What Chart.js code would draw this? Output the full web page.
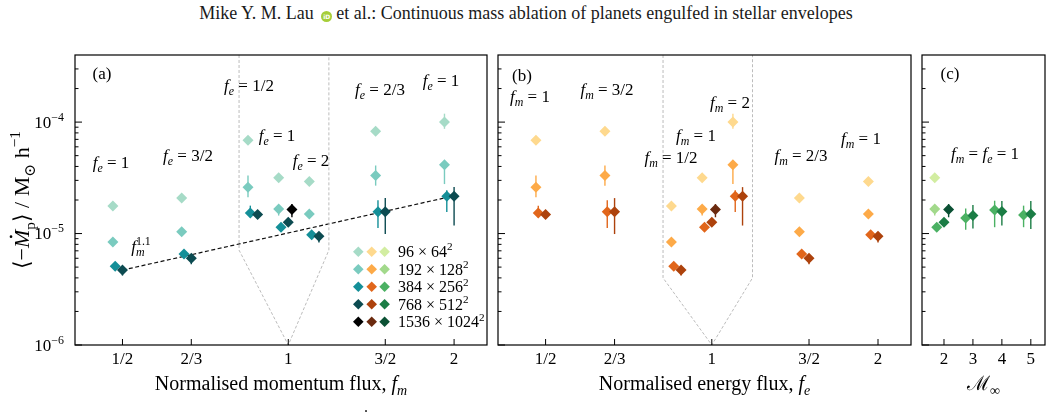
<!DOCTYPE html>
<html>
<head>
<meta charset="utf-8">
<title>Continuous mass ablation</title>
<script src="https://cdn.jsdelivr.net/npm/chart.js@4.4.1/dist/chart.umd.min.js"></script>
<style>
  body { margin: 0; background: #fff; }
  #wrap { position: relative; width: 1052px; height: 415px; overflow: hidden; background: #fff; }
  #wrap canvas { position: absolute; left: 0; top: 0; }
  #head { position: absolute; left: 0; top: 3px; width: 1052px; text-align: center; font: 18px "Liberation Serif", serif; color: #1a1a1a; white-space: nowrap; }
  .orcid { display: inline-block; width: 11px; height: 11px; border-radius: 50%; background: #a6ce39; color: #fff; font: bold 6px "DejaVu Sans", sans-serif; line-height: 11px; text-align: center; margin: 0 4px 0 3px; }
  #cap { position: absolute; left: 363px; top: 407px; font: 18px "Liberation Serif", serif; color: #222; }
</style>
</head>
<body>
<div id="wrap">
  <div id="head">Mike Y. M. Lau <span class="orcid">iD</span>et al.: Continuous mass ablation of planets engulfed in stellar envelopes</div>
  <canvas id="panelA" width="1052" height="415"></canvas>
  <canvas id="panelB" width="1052" height="415"></canvas>
  <canvas id="panelC" width="1052" height="415"></canvas>
  <div id="cap">˙</div>
</div>
<script>
// simulations: (f_m, f_e) for each run
const runFm = [0.5, 2/3, 1, 1, 1, 1.5, 2];
const runFe = [1, 1.5, 0.5, 1, 2, 2/3, 1];

// <-Mdot_p> in Msun/h, one array per resolution (null = not run)
const mdot96   = [1.77e-5, 2.08e-5, 6.86e-5, 3.16e-5, 2.93e-5, 8.26e-5, 1.0e-4];
const mdot192  = [8.4e-6, 1.04e-5, 2.6e-5, 1.66e-5, 1.5e-5, 3.32e-5, 4.14e-5];
const mdot384  = [5.1e-6, 6.55e-6, 1.53e-5, 1.14e-5, 9.77e-6, 1.57e-5, 2.16e-5];
const mdot768  = [4.7e-6, 6.0e-6, 1.48e-5, 1.26e-5, 9.44e-6, 1.57e-5, 2.16e-5];
const mdot1536 = [null, null, null, 1.64e-5, null, null, null];

// error bar ranges [low, high]
const err96   = [[1.65e-5, 1.9e-5], null, null, null, null, [7.7e-5, 9.0e-5], [8.7e-5, 1.19e-4]];
const err192  = [null, null, [2.12e-5, 3.32e-5], [1.45e-5, 1.78e-5], null, [2.69e-5, 4.08e-5], [2.78e-5, 4.5e-5]];
const err384  = [[4.8e-6, 5.4e-6], null, [1.4e-5, 1.78e-5], null, [8.9e-6, 1.05e-5], [1.12e-5, 1.99e-5], [1.56e-5, 2.45e-5]];
const err768  = [[4.2e-6, 5.0e-6], [5.3e-6, 6.55e-6], null, null, [8.3e-6, 1.03e-5], [9.9e-6, 2.08e-5], [1.18e-5, 2.61e-5]];
const err1536 = [null, null, null, [1.4e-5, 1.84e-5], null, null, null];

// Mach number runs (panel c), f_m = f_e = 1
const machNums = [2, 3, 4, 5];
const machMdot96   = [3.16e-5, null, null, null];
const machMdot192  = [1.66e-5, null, null, null];
const machMdot384  = [1.14e-5, 1.38e-5, 1.63e-5, 1.47e-5];
const machMdot768  = [1.26e-5, 1.45e-5, 1.58e-5, 1.5e-5];
const machMdot1536 = [1.64e-5, null, null, null];
const machErr96   = [null, null, null, null];
const machErr192  = [[1.45e-5, 1.78e-5], null, null, null];
const machErr384  = [null, [1.08e-5, 1.68e-5], [1.14e-5, 1.97e-5], [1.14e-5, 1.78e-5]];
const machErr768  = [null, [1.11e-5, 1.8e-5], [1.18e-5, 1.96e-5], [1.1e-5, 1.96e-5]];
const machErr1536 = [[1.4e-5, 1.84e-5], null, null, null];

// f_m^1.1 fit, end points
const fitX = [0.5, 2];
const fitY = [4.7e-6, 2.18e-5];

// grey zoom outlines (x, y) in data units
const zoomAx = [0.814, 0.814, 1, 1.185, 1.185];
const zoomAy = [4e-4, 7.1e-6, 1e-6, 7.1e-6, 4e-4];
const zoomBx = [0.816, 0.816, 1, 1.185, 1.185];
const zoomBy = [4e-4, 4.0e-6, 1e-6, 4.0e-6, 4e-4];

const resolutions = ['96 × 64', '192 × 128', '384 × 256', '768 × 512', '1536 × 1024'];
const fluxTicks = [0.5, 2/3, 1, 1.5, 2];
const fluxLabels = ['1/2', '2/3', '1', '3/2', '2'];
const machTicks = [2, 3, 4, 5];
const machLabels = ['2', '3', '4', '5'];
const yMajor = [1e-6, 1e-5, 1e-4];
const yMajorExp = ['−6', '−5', '−4'];

const teal   = ['#a6dbc7', '#7acbbf', '#148f98', '#0c4b51', '#000000'];
const orange = ['#fed98e', '#fdaa48', '#e1661b', '#ad420c', '#6b2a0f'];
const green  = ['#d2eda1', '#a2d98b', '#4bb163', '#1b7d45', '#0b5134'];

// small horizontal dodges so resolutions don't overlap
const resDodgeLog = [-0.058, -0.058, -0.044, 0, 0.022];
const resDodgeLin = [-0.32, -0.32, -0.25, 0, 0.16];
const groupDodge = 0.185;
const groupA = [0, 0, -1, 0, 1, 0, 0];
const groupB = [-1, 0, 0, 0, 0, 0, 1];

const FONT = '"Liberation Serif", "DejaVu Serif", serif';
const Y_MIN = 1e-6, Y_MAX = 4e-4;

function styleOf(st, size) {
    if (st === 'i' || st === 'idot') return { sz: size, dy: 0, it: true };
    if (st === 'sub') return { sz: size * 0.7, dy: size * 0.24, it: true };
    if (st === 'subr') return { sz: size * 0.7, dy: size * 0.24, it: false };
    if (st === 'sup' || st === 'supb') return { sz: size * 0.7, dy: -size * 0.42, it: false };
    return { sz: size, dy: 0, it: false };
}

// draws mixed italic / sub / sup text, y is the visual middle
function drawRich(ctx, parts, x, y, size, align) {
    const items = [];
    let cur = 0, lastStart = 0;
    parts.forEach(([t, st]) => {
        const s = styleOf(st, size);
        const font = (s.it ? 'italic ' : '') + s.sz.toFixed(1) + 'px ' + FONT;
        ctx.font = font;
        const w = ctx.measureText(t).width;
        const x0 = st === 'supb' ? lastStart : cur;
        if (st !== 'supb') lastStart = x0;
        items.push({ t, font, x0, w, dy: s.dy, dot: st === 'idot' });
        cur = Math.max(cur, x0 + w);
    });
    const sx = align === 'center' ? x - cur / 2 : align === 'right' ? x - cur : x;
    const base = y + size * 0.34;
    ctx.textAlign = 'left';
    ctx.textBaseline = 'alphabetic';
    items.forEach(it => {
        ctx.font = it.font;
        ctx.fillText(it.t, sx + it.x0, base + it.dy);
        if (it.dot) {
            ctx.beginPath();
            ctx.arc(sx + it.x0 + it.w * 0.62, base - size * 0.84, size * 0.06, 0, Math.PI * 2);
            ctx.fill();
        }
    });
}

const fe = v => [['f', 'i'], ['e', 'sub'], [' = ' + v, 'r']];
const fm = v => [['f', 'i'], ['m', 'sub'], [' = ' + v, 'r']];

function pointSets(colors, rows, errRows, xOf) {
    return rows.map((row, r) => {
        const pts = [], errs = [];
        row.forEach((v, i) => {
            if (v == null) return;
            pts.push({ x: xOf(i, r), y: v });
            errs.push(errRows[r][i]);
        });
        return {
            label: resolutions[r], data: pts, errs: errs,
            backgroundColor: colors[r], borderColor: colors[r], borderWidth: 0,
            pointStyle: 'rectRot', pointRadius: 5.5, pointHoverRadius: 5.5,
            order: 5 - r
        };
    });
}

function outline(xs, ys, color, width, dash) {
    return {
        data: xs.map((x, i) => ({ x: x, y: ys[i] })), showLine: true,
        borderColor: color, borderWidth: width, borderDash: dash,
        pointRadius: 0, fill: false, tension: 0, order: 10
    };
}

function diamond(ctx, x, y, r, color) {
    ctx.fillStyle = color;
    ctx.beginPath();
    ctx.moveTo(x, y - r); ctx.lineTo(x + r, y); ctx.lineTo(x, y + r); ctx.lineTo(x - r, y);
    ctx.closePath();
    ctx.fill();
}

function decor(cfg) {
    return {
        id: 'decor' + cfg.name,
        beforeDatasetsDraw(chart) {
            const { ctx, scales: { x, y } } = chart;
            ctx.save();
            ctx.lineWidth = 1.4;
            chart.data.datasets.forEach(ds => {
                if (!ds.errs) return;
                ctx.strokeStyle = ds.borderColor;
                ds.data.forEach((p, k) => {
                    const e = ds.errs[k];
                    if (!e) return;
                    const px = x.getPixelForValue(p.x);
                    ctx.beginPath();
                    ctx.moveTo(px, y.getPixelForValue(e[0]));
                    ctx.lineTo(px, y.getPixelForValue(e[1]));
                    ctx.stroke();
                });
            });
            ctx.restore();
        },
        afterDraw(chart) {
            const { ctx, chartArea: a, scales: { x, y } } = chart;
            ctx.save();
            ctx.strokeStyle = '#000';
            ctx.fillStyle = '#000';
            ctx.lineWidth = 1.2;
            ctx.strokeRect(a.left, a.top, a.right - a.left, a.bottom - a.top);

            // inward ticks
            ctx.lineWidth = 1;
            for (let d = -6; d <= -4; d++) {
                for (let k = 1; k <= 9; k++) {
                    const v = k * Math.pow(10, d);
                    if (v >= Y_MAX * 0.99) continue;
                    const py = y.getPixelForValue(v);
                    ctx.beginPath();
                    ctx.moveTo(a.left, py);
                    ctx.lineTo(a.left + (k === 1 ? 7 : 3.5), py);
                    ctx.stroke();
                }
            }
            cfg.xTicks.forEach(v => {
                const px = x.getPixelForValue(v);
                ctx.beginPath();
                ctx.moveTo(px, a.bottom);
                ctx.lineTo(px, a.bottom - 6);
                ctx.stroke();
            });

            if (cfg.yLabels) {
                yMajor.forEach((v, i) => {
                    drawRich(ctx, [['10', 'r'], [yMajorExp[i], 'sup']], a.left - 11, y.getPixelForValue(v), 17, 'right');
                });
                ctx.save();
                ctx.translate(22, (a.top + a.bottom) / 2);
                ctx.rotate(-Math.PI / 2);
                drawRich(ctx, [['⟨−', 'r'], ['M', 'idot'], ['p', 'subr'], ['⟩ / M', 'r'], ['⊙', 'subr'], [' h', 'r'], ['−1', 'sup']], 0, 0, 22, 'center');
                ctx.restore();
            }

            drawRich(ctx, cfg.xTitle, (a.left + a.right) / 2, 383, 20, 'center');
            cfg.notes.forEach(n => drawRich(ctx, n.parts, n.x, n.y, 17, 'center'));

            if (cfg.legend) {
                const rowsY = [251.7, 269.3, 286.8, 304.3, 321.8];
                const colsX = [358.3, 371.7, 384.6];
                const sets = [teal, orange, green];
                rowsY.forEach((ry, r) => {
                    sets.forEach((c, j) => diamond(ctx, colsX[j], ry, 5.3, c[r]));
                    ctx.fillStyle = '#000';
                    drawRich(ctx, [[resolutions[r], 'r'], ['2', 'sup']], 398, ry, 16, 'left');
                });
            }
            ctx.restore();
        }
    };
}

function makePanel(id, cfg, datasets) {
    return new Chart(document.getElementById(id), {
        type: 'scatter',
        data: { datasets: datasets },
        options: {
            responsive: false,
            animation: false,
            events: [],
            layout: { padding: { left: cfg.left, right: 1052 - cfg.right, top: 55, bottom: 0 } },
            plugins: { legend: { display: false }, tooltip: { enabled: false } },
            scales: {
                x: {
                    type: cfg.xType, min: cfg.xMin, max: cfg.xMax, bounds: 'data',
                    afterFit: s => { s.height = 70; },
                    afterBuildTicks: s => { s.ticks = cfg.xTicks.map(v => ({ value: v })); },
                    grid: { display: false, drawTicks: false },
                    border: { display: false },
                    ticks: {
                        callback: (v, i) => cfg.xLabels[i],
                        font: { family: FONT, size: 17 }, color: '#000',
                        padding: 4, maxRotation: 0, autoSkip: false
                    }
                },
                y: { type: 'logarithmic', min: Y_MIN, max: Y_MAX, display: false }
            }
        },
        plugins: [decor(cfg)]
    });
}

const mdotRows = [mdot96, mdot192, mdot384, mdot768, mdot1536];
const errRows = [err96, err192, err384, err768, err1536];
const machRows = [machMdot96, machMdot192, machMdot384, machMdot768, machMdot1536];
const machErrRows = [machErr96, machErr192, machErr384, machErr768, machErr1536];

makePanel('panelA', {
    name: 'A', left: 75, right: 487, xType: 'logarithmic', xMin: 0.41, xMax: 2.295,
    xTicks: fluxTicks, xLabels: fluxLabels, yLabels: true, legend: true,
    xTitle: [['Normalised momentum flux, ', 'r'], ['f', 'i'], ['m', 'sub']],
    notes: [
        { x: 102, y: 73, parts: [['(a)', 'r']] },
        { x: 111, y: 162, parts: fe('1') },
        { x: 188, y: 155, parts: fe('3/2') },
        { x: 249, y: 85, parts: fe('1/2') },
        { x: 277, y: 135, parts: fe('1') },
        { x: 311, y: 160, parts: fe('2') },
        { x: 380, y: 89, parts: fe('2/3') },
        { x: 441, y: 80, parts: fe('1') },
        { x: 141, y: 246, parts: [['f', 'i'], ['m', 'sub'], ['1.1', 'supb']] }
    ]
}, [
    outline(zoomAx, zoomAy, '#b4b4b4', 0.9, [3, 2]),
    outline(fitX, fitY, '#111', 1.2, [4, 2.5]),
    ...pointSets(teal, mdotRows, errRows, (i, r) => runFm[i] * Math.pow(2, resDodgeLog[r] + groupA[i] * groupDodge))
]);

makePanel('panelB', {
    name: 'B', left: 498, right: 911, xType: 'logarithmic', xMin: 0.41, xMax: 2.295,
    xTicks: fluxTicks, xLabels: fluxLabels,
    xTitle: [['Normalised energy flux, ', 'r'], ['f', 'i'], ['e', 'sub']],
    notes: [
        { x: 522, y: 75, parts: [['(b)', 'r']] },
        { x: 530, y: 96, parts: fm('1') },
        { x: 607, y: 89, parts: fm('3/2') },
        { x: 696, y: 135, parts: fm('1') },
        { x: 671, y: 157, parts: fm('1/2') },
        { x: 730, y: 102, parts: fm('2') },
        { x: 801, y: 155, parts: fm('2/3') },
        { x: 861, y: 138, parts: fm('1') }
    ]
}, [
    outline(zoomBx, zoomBy, '#b4b4b4', 0.9, [3, 2]),
    ...pointSets(orange, mdotRows, errRows, (i, r) => runFe[i] * Math.pow(2, resDodgeLog[r] + groupB[i] * groupDodge))
]);

makePanel('panelC', {
    name: 'C', left: 922, right: 1045, xType: 'linear', xMin: 1.24, xMax: 5.49,
    xTicks: machTicks, xLabels: machLabels,
    xTitle: [['ℳ', 'r'], ['∞', 'subr']],
    notes: [
        { x: 950, y: 73, parts: [['(c)', 'r']] },
        { x: 985, y: 153, parts: [['f', 'i'], ['m', 'sub'], [' = ', 'r'], ['f', 'i'], ['e', 'sub'], [' = 1', 'r']] }
    ]
}, pointSets(green, machRows, machErrRows, (i, r) => machNums[i] + resDodgeLin[r]));
</script>
</body>
</html>
